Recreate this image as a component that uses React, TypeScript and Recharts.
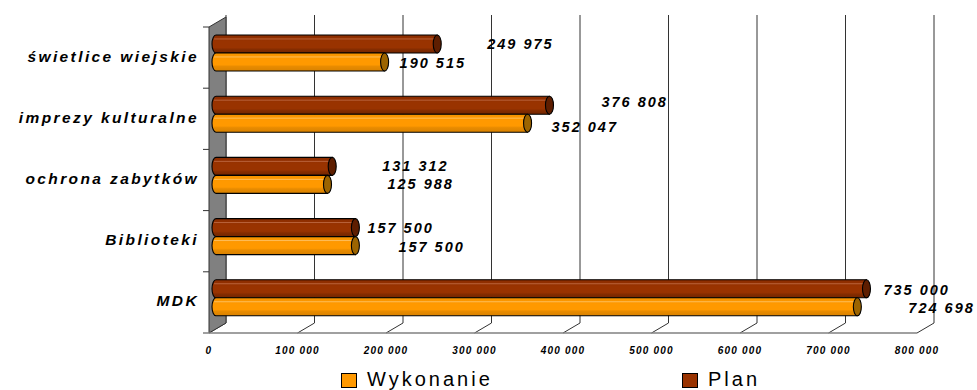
import React from "react";
import {
  BarChart,
  Bar,
  XAxis,
  YAxis,
  CartesianGrid,
  Legend,
  LabelList,
  Customized,
} from "recharts";

// values
const categories = [
  "świetlice wiejskie",
  "imprezy kulturalne",
  "ochrona zabytków",
  "Biblioteki",
  "MDK",
];
const planValues = [249975, 376808, 131312, 157500, 735000];
const wykonanieValues = [190515, 352047, 125988, 157500, 724698];
const xTicks = [0, 100000, 200000, 300000, 400000, 500000, 600000, 700000, 800000];

// hand-placed data labels in the original (px nudges from bar end)
const planLabelDx = [50, 52, 50, 12, 17];
const planLabelDy = [0, -3, 0, 0, 1];
const wykLabelDx = [15, 24, 60, 43, 51];
const wykLabelDy = [1, 4, 0, 1.5, 1];

const rows = categories.map((name, i) => ({
  name,
  plan: planValues[i],
  wykonanie: wykonanieValues[i],
}));

const W = 977;
const H = 390;
const PLOT_LEFT = 216;
const PLOT_RIGHT = 924;
const PLOT_TOP = 22;
const PLOT_BOTTOM = 328;
// pseudo 3D: bars sit mid-depth, front edge and back wall are shifted
const FRONT_DX = -7;
const FRONT_DY = 5;
const BACK_DX = 10;
const BACK_DY = -5;

const FONT = "Arial, 'Liberation Sans', sans-serif";
const PLAN = "#993300";
const WYK = "#FF9900";

function fmt(v: number) {
  return String(v).replace(/\B(?=(\d{3})+(?!\d))/g, " ");
}

function Cylinder(props: any) {
  const { x, y, width, height, kind } = props;
  if (!width || width <= 0) return null;
  const rx = 4;
  const ry = height / 2;
  const isPlan = kind === "plan";
  const body = `M${x},${y} H${x + width} V${y + height} H${x} A${rx},${ry} 0 0 1 ${x},${y} Z`;
  return (
    <g>
      <path d={body} fill={isPlan ? "url(#gPlan)" : "url(#gWyk)"} stroke="#000" strokeWidth={1.1} />
      <line
        x1={x - 2}
        y1={y + height * 0.22}
        x2={x + width - 2}
        y2={y + height * 0.22}
        stroke={isPlan ? "#C4704A" : "#FFC870"}
        strokeWidth={1}
        opacity={0.8}
      />
      <ellipse
        cx={x + width}
        cy={y + ry}
        rx={rx}
        ry={ry}
        fill={isPlan ? "#5E1E00" : "#9C6400"}
        stroke="#000"
        strokeWidth={1.1}
      />
    </g>
  );
}

function makeLabel(dxs: number[], dys: number[]) {
  return (props: any) => {
    const { x, y, width, height, value, index } = props;
    return (
      <text
        x={x + width + dxs[index]}
        y={y + height / 2 + dys[index]}
        dominantBaseline="central"
        fontFamily={FONT}
        fontSize={14.5}
        fontWeight="bold"
        fontStyle="italic"
        letterSpacing={2}
        fill="#000"
      >
        {fmt(value)}
      </text>
    );
  };
}

function GridLine(props: any) {
  const { x1, y1, y2, index } = props;
  return (
    <g key={`g-${index}`}>
      <line
        x1={x1 + BACK_DX}
        y1={y1 + BACK_DY - 2}
        x2={x1 + BACK_DX}
        y2={y2 + BACK_DY}
        stroke="#333"
        strokeWidth={1}
      />
      <line
        x1={x1 + FRONT_DX}
        y1={y2 + FRONT_DY}
        x2={x1 + BACK_DX}
        y2={y2 + BACK_DY}
        stroke="#333"
        strokeWidth={1}
      />
    </g>
  );
}

function Frame() {
  const band = (PLOT_BOTTOM - PLOT_TOP) / categories.length;
  const fx = PLOT_LEFT + FRONT_DX;
  const bx = PLOT_LEFT + BACK_DX;
  return (
    <g>
      <polygon
        points={`${fx},${PLOT_TOP + FRONT_DY} ${bx},${PLOT_TOP + BACK_DY} ${bx},${PLOT_BOTTOM + BACK_DY} ${fx},${PLOT_BOTTOM + FRONT_DY}`}
        fill="#808080"
        stroke="#333"
        strokeWidth={1}
      />
      <line
        x1={fx - 6}
        y1={PLOT_BOTTOM + FRONT_DY}
        x2={PLOT_RIGHT + FRONT_DX}
        y2={PLOT_BOTTOM + FRONT_DY}
        stroke="#808080"
        strokeWidth={1.5}
      />
      {categories.map((_, i) => (
        <line
          key={i}
          x1={fx - 6}
          x2={fx}
          y1={PLOT_TOP + FRONT_DY + i * band}
          y2={PLOT_TOP + FRONT_DY + i * band}
          stroke="#333"
        />
      ))}
    </g>
  );
}

function CategoryTick(props: any) {
  const { y, payload } = props;
  return (
    <text
      x={199}
      y={y + 9}
      textAnchor="end"
      fontFamily={FONT}
      fontSize={15.5}
      fontWeight="bold"
      fontStyle="italic"
      letterSpacing={2.4}
      fill="#000"
    >
      {payload.value}
    </text>
  );
}

function ValueTick(props: any) {
  const { x, payload } = props;
  return (
    <text
      x={x + FRONT_DX}
      y={PLOT_BOTTOM + 26}
      textAnchor="middle"
      fontFamily={FONT}
      fontSize={10}
      fontWeight="bold"
      fontStyle="italic"
      letterSpacing={1.2}
      fill="#000"
    >
      {fmt(payload.value)}
    </text>
  );
}

const legendItems = [
  { name: "Wykonanie", color: WYK, left: 341 },
  { name: "Plan", color: PLAN, left: 682 },
];

function LegendBox() {
  return (
    <div style={{ position: "relative", width: W, height: 20 }}>
      {legendItems.map((it) => (
        <div key={it.name} style={{ position: "absolute", left: it.left, top: 0 }}>
          <span
            style={{
              position: "absolute",
              left: 0,
              top: 3,
              width: 14,
              height: 13,
              background: it.color,
              border: "1px solid #000",
            }}
          />
          <span
            style={{
              position: "absolute",
              left: 26,
              top: -1,
              fontFamily: FONT,
              fontSize: 20,
              lineHeight: "20px",
              letterSpacing: 3,
              whiteSpace: "nowrap",
              color: "#000",
            }}
          >
            {it.name}
          </span>
        </div>
      ))}
    </div>
  );
}

export default function App() {
  return (
    <div style={{ position: "absolute", left: 0, top: 0, width: W, height: H, background: "#fff" }}>
      <BarChart
        width={W}
        height={H}
        data={rows}
        layout="vertical"
        margin={{ top: PLOT_TOP, right: W - PLOT_RIGHT, bottom: H - PLOT_BOTTOM - 30, left: 0 }}
        barGap={0}
        barSize={18}
      >
        <defs>
          <linearGradient id="gPlan" x1="0" y1="0" x2="0" y2="1">
            <stop offset="0" stopColor="#8A2C00" />
            <stop offset="0.35" stopColor="#993300" />
            <stop offset="0.7" stopColor="#993300" />
            <stop offset="0.8" stopColor="#852C00" />
            <stop offset="1" stopColor="#722600" />
          </linearGradient>
          <linearGradient id="gWyk" x1="0" y1="0" x2="0" y2="1">
            <stop offset="0" stopColor="#F59300" />
            <stop offset="0.35" stopColor="#FF9900" />
            <stop offset="0.65" stopColor="#FF9900" />
            <stop offset="0.75" stopColor="#E88B00" />
            <stop offset="1" stopColor="#D98200" />
          </linearGradient>
        </defs>
        <CartesianGrid horizontal={false} vertical={GridLine} />
        <Customized component={<Frame />} />
        <XAxis
          type="number"
          domain={[0, 800000]}
          ticks={xTicks}
          height={30}
          axisLine={false}
          tickLine={false}
          tick={ValueTick}
          interval={0}
        />
        <YAxis
          type="category"
          dataKey="name"
          width={PLOT_LEFT}
          axisLine={false}
          tickLine={false}
          tick={CategoryTick}
          interval={0}
        />
        <Legend
          layout="horizontal"
          verticalAlign="middle"
          align="center"
          wrapperStyle={{ top: 370, left: 0, width: W, height: 20 }}
          content={<LegendBox />}
        />
        <Bar
          dataKey="plan"
          name="Plan"
          fill={PLAN}
          isAnimationActive={false}
          shape={(p: any) => <Cylinder {...p} kind="plan" />}
        >
          <LabelList dataKey="plan" content={makeLabel(planLabelDx, planLabelDy)} />
        </Bar>
        <Bar
          dataKey="wykonanie"
          name="Wykonanie"
          fill={WYK}
          isAnimationActive={false}
          shape={(p: any) => <Cylinder {...p} kind="wyk" />}
        >
          <LabelList dataKey="wykonanie" content={makeLabel(wykLabelDx, wykLabelDy)} />
        </Bar>
      </BarChart>
    </div>
  );
}
